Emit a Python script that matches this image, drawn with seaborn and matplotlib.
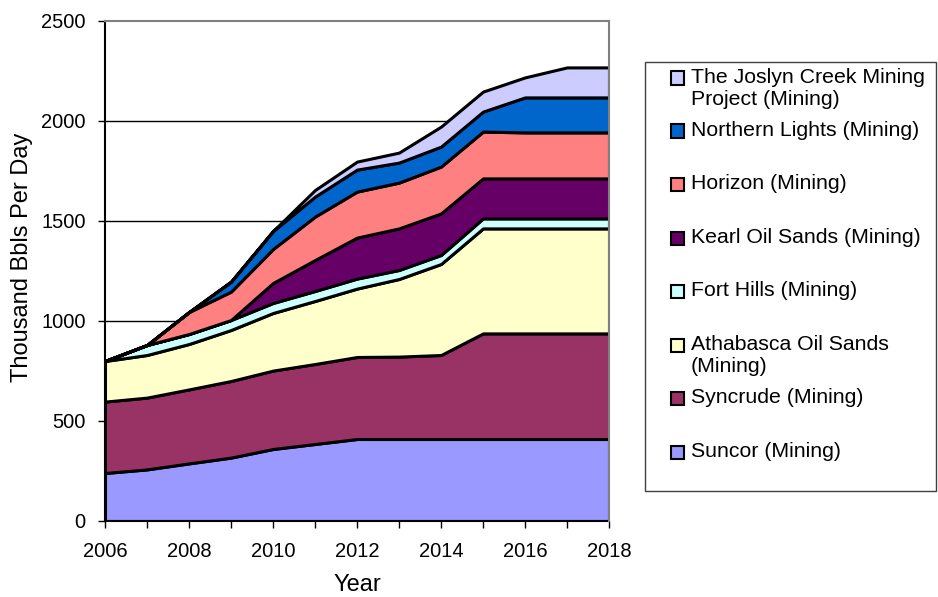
import matplotlib
matplotlib.use("Agg")
import matplotlib.pyplot as plt
from matplotlib.patches import Rectangle
import seaborn as sns

years = [2006, 2007, 2008, 2009, 2010, 2011, 2012, 2013, 2014, 2015, 2016, 2017, 2018]

suncor = [240, 258, 288, 317, 360, 385, 410, 410, 410, 410, 410, 410, 410]
syncrude = [357, 359, 370, 383, 392, 400, 410, 412, 420, 528, 528, 528, 528]
athabasca = [203, 213, 227, 255, 288, 315, 342, 388, 455, 525, 525, 525, 525]
fort_hills = [0, 50, 50, 50, 50, 50, 50, 45, 45, 50, 50, 50, 50]
kearl = [0, 0, 0, 0, 100, 155, 205, 208, 208, 200, 200, 200, 200]
horizon = [0, 0, 110, 142, 170, 217, 230, 229, 234, 234, 230, 230, 230]
northern_lights = [0, 0, 0, 50, 90, 100, 110, 100, 100, 100, 175, 175, 175]
joslyn = [0, 0, 0, 0, 0, 33, 40, 50, 100, 100, 100, 150, 150]

names = ["Suncor (Mining)", "Syncrude (Mining)", "Athabasca Oil Sands\n(Mining)",
         "Fort Hills (Mining)", "Kearl Oil Sands (Mining)", "Horizon (Mining)",
         "Northern Lights (Mining)", "The Joslyn Creek Mining\nProject (Mining)"]
colors = ["#9999FF", "#993366", "#FFFFCC", "#CCFFFF", "#660066", "#FF8080",
          "#0066CC", "#CCCCFF"]

sns.set_theme(style="ticks")
plt.rcParams['font.family'] = ['Liberation Sans', 'DejaVu Sans']

W, H = 938, 597
fig = plt.figure(figsize=(W / 100, H / 100), dpi=100)
ax = fig.add_axes([105 / W, 1 - 521 / H, 504 / W, 500 / H])

for v in range(500, 2500, 500):
    ax.axhline(v, color="black", lw=1, zorder=1)

ax.stackplot(years, suncor, syncrude, athabasca, fort_hills, kearl, horizon,
             northern_lights, joslyn, colors=colors, edgecolor="black",
             linewidth=2.2, zorder=2)

ax.set_xlim(2006, 2018)
ax.set_ylim(0, 2500)
ax.set_xticks(range(2006, 2019, 2))
ax.set_xticks(years, minor=True)
ax.set_yticks(range(0, 2501, 500))
ax.tick_params(axis="both", which="both", direction="out", length=5, width=1,
               color="black", labelsize=14.5, labelcolor="black")
ax.tick_params(axis="x", which="major", pad=10)
ax.tick_params(axis="y", which="major", pad=9)

for side in ["left", "bottom"]:
    ax.spines[side].set_color("black")
    ax.spines[side].set_linewidth(1.5)
for side in ["top", "right"]:
    ax.spines[side].set_visible(True)
    ax.spines[side].set_color("#808080")
    ax.spines[side].set_linewidth(1.5)
    ax.spines[side].set_zorder(3)

ax.set_xlabel("Year", fontsize=17, color="black", va="center")
ax.set_ylabel("Thousand Bbls Per Day", fontsize=17, color="black", va="center")
ax.xaxis.set_label_coords(0.5, -0.128)
ax.yaxis.set_label_coords(-0.165, 0.528)

# legend drawn by hand, Excel style
fig.add_artist(Rectangle((645 / W, 1 - 491 / H), 291 / W, 429 / H,
                         transform=fig.transFigure, facecolor="white",
                         edgecolor="#404040", lw=1))
row_y = [452, 398, 345, 291, 238, 184, 131, 78]
for name, col, y in zip(names, colors, row_y):
    fig.add_artist(Rectangle((671 / W, 1 - (y + 6.5) / H), 13 / W, 13 / H,
                             transform=fig.transFigure, facecolor=col,
                             edgecolor="black", lw=1.5))
    fig.text(691 / W, 1 - (y - 10) / H, name, fontsize=15.3, va="top",
             ha="left", color="black", linespacing=1.2)

fig.savefig("out.png", dpi=100)
